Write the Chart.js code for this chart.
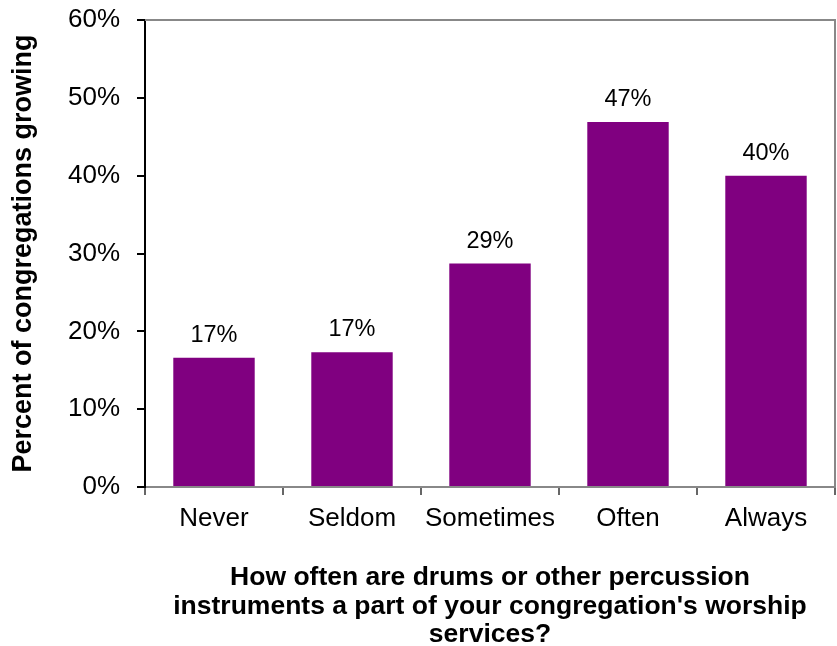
<!DOCTYPE html>
<html>
<head>
<meta charset="utf-8">
<script src="https://cdn.jsdelivr.net/npm/chart.js@4"></script>
<style>
  html, body { margin: 0; padding: 0; background: #fff; }
  #wrap { width: 837px; height: 646px; }
</style>
</head>
<body>
<div id="wrap"><canvas id="canvas" width="837" height="646"></canvas></div>
<script>
const labels = ['Never', 'Seldom', 'Sometimes', 'Often', 'Always'];
const growing = [16.6, 17.3, 28.7, 46.9, 40.0];
const yTicks = [0, 10, 20, 30, 40, 50, 60];
const xTitle = [
  'How often are drums or other percussion',
  "instruments a part of your congregation's worship",
  'services?'
];
const yTitle = 'Percent of congregations growing';

const FONT = 'Arial, "Liberation Sans", sans-serif';

// value labels over each bar + grey frame on top/right of plot area
const barLabels = {
  id: 'barLabels',
  afterDatasetsDraw(chart) {
    const ctx = chart.ctx;
    const meta = chart.getDatasetMeta(0);
    ctx.save();
    ctx.font = '23.5px ' + FONT;
    ctx.fillStyle = '#000';
    ctx.textAlign = 'center';
    ctx.textBaseline = 'alphabetic';
    meta.data.forEach((bar, i) => {
      ctx.fillText(Math.round(growing[i]) + '%', bar.x, bar.y - 16);
    });
    const a = chart.chartArea;
    ctx.strokeStyle = '#888';
    ctx.lineWidth = 2;
    ctx.beginPath();
    ctx.moveTo(a.left, a.top);
    ctx.lineTo(a.right, a.top);
    ctx.lineTo(a.right, a.bottom);
    ctx.stroke();
    ctx.restore();
  }
};

const data = {
  labels: labels,
  datasets: [
    {
      data: growing,
      backgroundColor: '#800080',
      borderWidth: 0,
      categoryPercentage: 1,
      barPercentage: 0.59,
    }
  ]
};

const config = {
  type: 'bar',
  data: data,
  plugins: [barLabels],
  options: {
    responsive: false,
    animation: false,
    layout: { padding: { top: 20, right: 2, bottom: 0, left: 0 } },
    plugins: {
      legend: { display: false },
      tooltip: { enabled: false }
    },
    scales: {
      x: {
        grid: { drawOnChartArea: false, tickLength: 8, color: '#666', lineWidth: 2 },
        border: { color: '#888', width: 2 },
        ticks: { color: '#000', font: { family: FONT, size: 26 }, padding: 8, maxRotation: 0 },
        title: {
          display: true,
          text: xTitle,
          color: '#000',
          font: { family: FONT, size: 26.5, weight: 'bold', lineHeight: 1.07 },
          padding: { top: 0, bottom: -3 }
        },
        afterFit(scale) {
          scale.height = 159;
          scale.paddingLeft = 0;
          scale.paddingRight = 0;
        }
      },
      y: {
        min: 0,
        max: 60,
        afterBuildTicks(scale) { scale.ticks = yTicks.map(v => ({ value: v })); },
        grid: { drawOnChartArea: false, tickLength: 8, color: '#000', lineWidth: 2 },
        border: { color: '#000', width: 2 },
        ticks: {
          color: '#000',
          font: { family: FONT, size: 26 },
          padding: 17,
          callback: v => v + '%'
        },
        title: {
          display: true,
          text: yTitle,
          color: '#000',
          font: { family: FONT, size: 27, weight: 'bold' },
          padding: { top: 7, bottom: 0 }
        },
        afterFit(scale) {
          scale.width = 145;
          scale.paddingTop = 0;
          scale.paddingBottom = 0;
        }
      }
    }
  }
};

const canvas = document.getElementById('canvas');
const chart = new Chart(canvas, config);
</script>
</body>
</html>
